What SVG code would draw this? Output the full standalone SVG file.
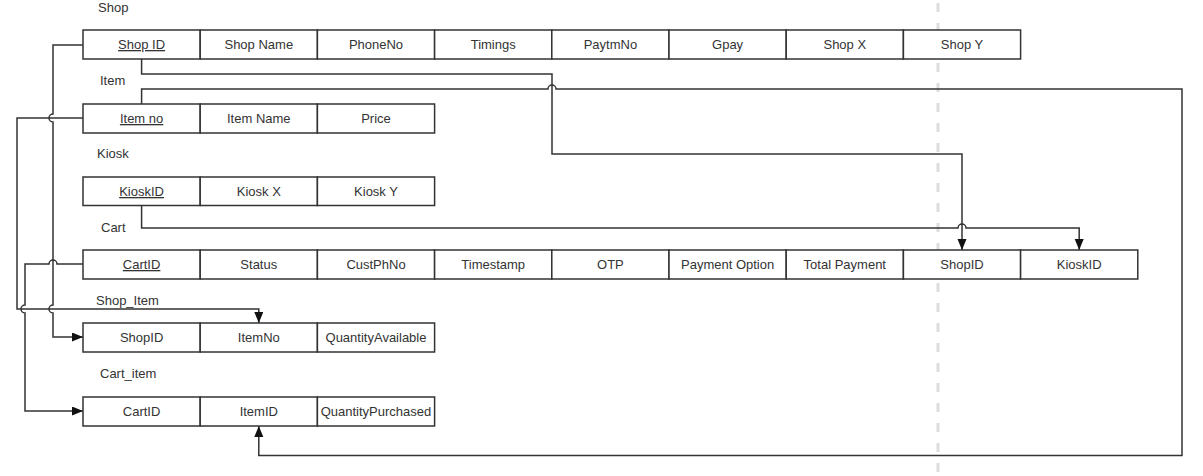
<svg xmlns="http://www.w3.org/2000/svg" width="1203" height="476" viewBox="0 0 1203 476">
<style>
text{font-family:"Liberation Sans",Arial,sans-serif;font-size:13px;fill:#333}
.c{text-anchor:middle}
.k{text-decoration:underline}
rect{fill:#fff;stroke:#333;stroke-width:1.5}
.cn{fill:none;stroke:#333;stroke-width:1.5}
</style>
<defs>
<marker id="ar" markerUnits="userSpaceOnUse" markerWidth="12" markerHeight="10" refX="11" refY="4.5" orient="auto">
<path d="M0,0 L11,4.5 L0,9 z" fill="#111"/>
</marker>
</defs>
<rect x="0" y="0" width="1203" height="476" style="fill:#fff;stroke:none"/>
<line x1="938" y1="3" x2="938" y2="476" stroke="#ddd" stroke-width="3" stroke-dasharray="9 11"/>

<g id="connectors">
<path class="cn" d="M141.6,59 V74 H552 V154 H962 V250" marker-end="url(#ar)"/>
<path class="cn" d="M141.6,104 V89 H548 a4,4 0 0 1 8,0 H1182 V455.5 H258.8 V426" marker-end="url(#ar)"/>
<path class="cn" d="M141.6,205 V228 H958 a4,4 0 0 1 8,0 H1079.2 V250" marker-end="url(#ar)"/>
<path class="cn" d="M83,45 H53 V114 a4,4 0 0 0 0,8 V305 a4,4 0 0 0 0,8 V337 H83" marker-end="url(#ar)"/>
<path class="cn" d="M83,118 H17 V309 H258.8 V323" marker-end="url(#ar)"/>
<path class="cn" d="M83,264 H57 a4,4 0 0 0 -8,0 H25 V305 a4,4 0 0 0 0,8 V411 H83" marker-end="url(#ar)"/>
</g>

<g id="shop">
<text x="98" y="12">Shop</text>
<rect x="83" y="30" width="117.2" height="29"/>
<rect x="200.2" y="30" width="117.2" height="29"/>
<rect x="317.4" y="30" width="117.2" height="29"/>
<rect x="434.6" y="30" width="117.2" height="29"/>
<rect x="551.8" y="30" width="117.2" height="29"/>
<rect x="669" y="30" width="117.2" height="29"/>
<rect x="786.2" y="30" width="117.2" height="29"/>
<rect x="903.4" y="30" width="117.2" height="29"/>
<text class="c k" x="141.6" y="49">Shop ID</text>
<text class="c" x="258.8" y="49">Shop Name</text>
<text class="c" x="376" y="49">PhoneNo</text>
<text class="c" x="493.2" y="49">Timings</text>
<text class="c" x="610.4" y="49">PaytmNo</text>
<text class="c" x="727.6" y="49">Gpay</text>
<text class="c" x="844.8" y="49">Shop X</text>
<text class="c" x="962" y="49">Shop Y</text>
</g>

<g id="item">
<text x="100" y="85">Item</text>
<rect x="83" y="104" width="117.2" height="29"/>
<rect x="200.2" y="104" width="117.2" height="29"/>
<rect x="317.4" y="104" width="117.2" height="29"/>
<text class="c k" x="141.6" y="123">Item no</text>
<text class="c" x="258.8" y="123">Item Name</text>
<text class="c" x="376" y="123">Price</text>
</g>

<g id="kiosk">
<text x="97" y="158">Kiosk</text>
<rect x="83" y="177" width="117.2" height="28.5"/>
<rect x="200.2" y="177" width="117.2" height="28.5"/>
<rect x="317.4" y="177" width="117.2" height="28.5"/>
<text class="c k" x="141.6" y="196">KioskID</text>
<text class="c" x="258.8" y="196">Kiosk X</text>
<text class="c" x="376" y="196">Kiosk Y</text>
</g>

<g id="cart">
<text x="101" y="232">Cart</text>
<rect x="83" y="250" width="117.2" height="29"/>
<rect x="200.2" y="250" width="117.2" height="29"/>
<rect x="317.4" y="250" width="117.2" height="29"/>
<rect x="434.6" y="250" width="117.2" height="29"/>
<rect x="551.8" y="250" width="117.2" height="29"/>
<rect x="669" y="250" width="117.2" height="29"/>
<rect x="786.2" y="250" width="117.2" height="29"/>
<rect x="903.4" y="250" width="117.2" height="29"/>
<rect x="1020.6" y="250" width="117.2" height="29"/>
<text class="c k" x="141.6" y="269">CartID</text>
<text class="c" x="258.8" y="269">Status</text>
<text class="c" x="376" y="269">CustPhNo</text>
<text class="c" x="493.2" y="269">Timestamp</text>
<text class="c" x="610.4" y="269">OTP</text>
<text class="c" x="727.6" y="269">Payment Option</text>
<text class="c" x="844.8" y="269">Total Payment</text>
<text class="c" x="962" y="269">ShopID</text>
<text class="c" x="1079.2" y="269">KioskID</text>
</g>

<g id="shop_item">
<text x="96" y="305">Shop_Item</text>
<rect x="83" y="323" width="117.2" height="29"/>
<rect x="200.2" y="323" width="117.2" height="29"/>
<rect x="317.4" y="323" width="117.2" height="29"/>
<text class="c" x="141.6" y="342">ShopID</text>
<text class="c" x="258.8" y="342">ItemNo</text>
<text class="c" x="376" y="342">QuantityAvailable</text>
</g>

<g id="cart_item">
<text x="100" y="378">Cart_item</text>
<rect x="83" y="397" width="117.2" height="29"/>
<rect x="200.2" y="397" width="117.2" height="29"/>
<rect x="317.4" y="397" width="117.2" height="29"/>
<text class="c" x="141.6" y="416">CartID</text>
<text class="c" x="258.8" y="416">ItemID</text>
<text class="c" x="376" y="416">QuantityPurchased</text>
</g>
</svg>
